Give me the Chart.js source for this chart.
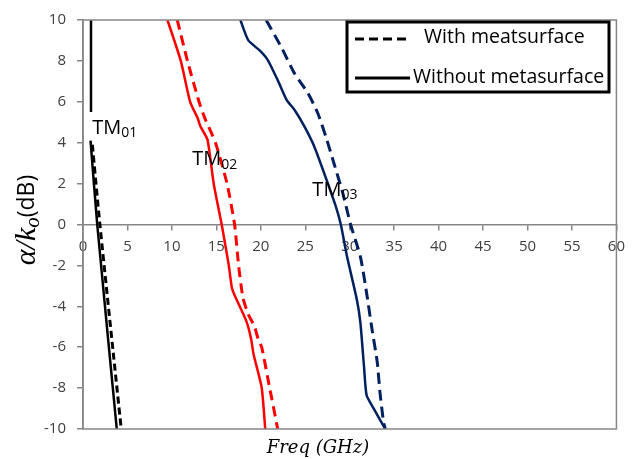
<!DOCTYPE html>
<html>
<head>
<meta charset="utf-8">
<script src="https://cdn.jsdelivr.net/npm/chart.js@4.4.1/dist/chart.umd.min.js"></script>
<style>
    body { margin: 0; background: #ffffff; }
    canvas { display: block; }
</style>
</head>
<body>
<canvas id="lossChart" width="633" height="459"></canvas>
<script>
// valeurs (freq en GHz, alpha/k0 en dB)
const xTicks = [0, 5, 10, 15, 20, 25, 30, 35, 40, 45, 50, 55, 60];
const yTicks = [-10, -8, -6, -4, -2, 0, 2, 4, 6, 8, 10];

const tm01SolidFreq = [0.9, 0.9, null, 0.85, 1.6, 3.8];
const tm01SolidAlpha = [10, 5.5, null, 4.1, 0, -10];
const tm01DashFreq = [1.05, 1.9, 4.3];
const tm01DashAlpha = [3.9, 0, -10];

const tm02SolidFreq = [9.5, 11.0, 12.05, 12.9, 13.2, 14.0, 14.7, 15.6, 16.4, 16.75, 17.2, 18.4, 18.9, 19.2, 20.1, 20.5];
const tm02SolidAlpha = [10, 8, 6, 5.2, 4.8, 4.15, 2, 0, -2, -3.1, -3.6, -4.76, -5.57, -6.37, -7.98, -10];
const tm02DashFreq = [10.6, 11.75, 13.05, 13.7, 14.9, 16.2, 17.05, 17.5, 18.0, 18.6, 19.3, 19.7, 20.1, 21.0, 21.9];
const tm02DashAlpha = [10, 8, 6, 5.2, 4.0, 2, 0, -2, -3.6, -4.4, -5.0, -5.6, -6, -8, -10];

const tm03SolidFreq = [17.7, 18.6, 19.9, 20.8, 21.9, 22.9, 23.8, 24.9, 26.0, 27.3, 28.4, 29.0, 29.7, 30.8, 31.2, 31.6, 31.9, 32.7, 34.0];
const tm03SolidAlpha = [10, 9.0, 8.5, 8.03, 7.06, 6.09, 5.6, 4.8, 3.83, 2.3, 0.93, 0, -1.57, -3.67, -4.8, -6.9, -8.35, -9.0, -10];
const tm03DashFreq = [20.6, 22.3, 23.8, 25.3, 26.4, 27.3, 28.2, 29.2, 30.1, 31.2, 31.9, 32.5, 33.1, 33.4, 33.8, 34.0];
const tm03DashAlpha = [10, 8.68, 7.38, 6.42, 5.45, 4.32, 3.03, 1.57, 0, -1.57, -3.35, -5.1, -6.74, -8.2, -9.65, -10];

// étiquettes des modes: [texte, indice, freq, alpha]
const modeLabels = [
    ['TM', '01', 1.05, 4.7],
    ['TM', '02', 12.3, 3.17],
    ['TM', '03', 25.8, 1.67]
];
const legendItems = ['With meatsurface', 'Without metasurface'];

const axisColor = '#868686';
const tickFont = { family: 'Open Sans', size: 15 };

function toPoints(freqs, alphas) {
    return freqs.map((f, i) => ({ x: f, y: alphas[i] }));
}

function curve(label, freqs, alphas, color, dashed, dash) {
    return {
        label: label,
        data: toPoints(freqs, alphas),
        borderColor: color,
        borderWidth: dashed ? 3 : 2.5,
        borderDash: dashed ? dash : [],
        pointRadius: 0,
        tension: 0.2,
        spanGaps: false,
        fill: false
    };
}

// cadre, légende encadrée, étiquettes TM et titres des axes
const decorPlugin = {
    id: 'decor',
    afterDraw(chart) {
        const ctx = chart.ctx;
        const area = chart.chartArea;
        const xs = chart.scales.x;
        const ys = chart.scales.y;

        ctx.save();
        ctx.strokeStyle = axisColor;
        ctx.lineWidth = 1.5;
        ctx.strokeRect(area.left, area.top, area.right - area.left, area.bottom - area.top);

        // légende
        ctx.strokeStyle = '#000000';
        ctx.lineWidth = 3;
        ctx.strokeRect(347, 22, 262, 70);
        ctx.setLineDash([9, 5]);
        ctx.beginPath();
        ctx.moveTo(355, 39);
        ctx.lineTo(408, 39);
        ctx.stroke();
        ctx.setLineDash([]);
        ctx.beginPath();
        ctx.moveTo(355, 78);
        ctx.lineTo(410, 78);
        ctx.stroke();
        ctx.fillStyle = '#000000';
        ctx.font = '19.5px "Open Sans"';
        ctx.textBaseline = 'middle';
        ctx.textAlign = 'left';
        ctx.fillText(legendItems[0], 424, 37);
        ctx.fillText(legendItems[1], 413, 77);

        // TM01, TM02, TM03
        modeLabels.forEach(([main, sub, f, a]) => {
            const px = xs.getPixelForValue(f);
            const py = ys.getPixelForValue(a);
            ctx.font = '20px "Open Sans"';
            ctx.fillStyle = '#000000';
            ctx.fillText(main, px, py);
            const w = ctx.measureText(main).width;
            ctx.font = '14px "Open Sans"';
            ctx.fillText(sub, px + w, py + 5);
        });

        // titre axe x
        ctx.font = 'italic 18px "DejaVu Serif"';
        ctx.textAlign = 'center';
        ctx.fillText('Freq (GHz)', 318, 448);

        // titre axe y (tourné)
        ctx.translate(27, 220);
        ctx.rotate(-Math.PI / 2);
        ctx.textAlign = 'left';
        const parts = [
            ['α/k', 'italic 30px "Liberation Serif"', 0],
            ['o', 'italic 21px "Liberation Serif"', 6],
            ['(dB)', '23px "Open Sans"', 0]
        ];
        let total = 0;
        parts.forEach(p => { ctx.font = p[1]; total += ctx.measureText(p[0]).width; });
        let cx = -total / 2;
        parts.forEach(p => {
            ctx.font = p[1];
            ctx.fillText(p[0], cx, p[2]);
            cx += ctx.measureText(p[0]).width;
        });
        ctx.restore();
    }
};

const lossChart = new Chart(document.getElementById('lossChart'), {
    type: 'line',
    data: {
        datasets: [
            curve('TM01 sans', tm01SolidFreq, tm01SolidAlpha, '#000000', false),
            curve('TM01 avec', tm01DashFreq, tm01DashAlpha, '#000000', true, [7, 4]),
            curve('TM02 sans', tm02SolidFreq, tm02SolidAlpha, '#ff0000', false),
            curve('TM02 avec', tm02DashFreq, tm02DashAlpha, '#ff0000', true, [10, 6]),
            curve('TM03 sans', tm03SolidFreq, tm03SolidAlpha, '#002060', false),
            curve('TM03 avec', tm03DashFreq, tm03DashAlpha, '#002060', true, [11, 6])
        ]
    },
    options: {
        responsive: false,
        animation: false,
        layout: {
            padding: { top: 16, right: 10, bottom: 30, left: 0 }
        },
        scales: {
            x: {
                type: 'linear',
                position: { y: 0 },
                min: 0,
                max: 60,
                afterBuildTicks: scale => { scale.ticks = xTicks.map(v => ({ value: v })); },
                ticks: { color: '#404040', font: tickFont, padding: 8, maxRotation: 0 },
                grid: { drawOnChartArea: false, tickLength: 5, color: axisColor, lineWidth: 1.5 },
                border: { color: axisColor, width: 1.5 }
            },
            y: {
                type: 'linear',
                min: -10,
                max: 10,
                afterBuildTicks: scale => { scale.ticks = yTicks.map(v => ({ value: v })); },
                afterFit: scale => { scale.width = 83; },
                ticks: { color: '#404040', font: tickFont, padding: 11 },
                grid: { drawOnChartArea: false, tickLength: 6, color: axisColor, lineWidth: 1.5 },
                border: { color: axisColor, width: 1.5 }
            }
        },
        plugins: {
            legend: { display: false },
            tooltip: { enabled: false }
        }
    },
    plugins: [decorPlugin]
});
</script>
</body>
</html>
